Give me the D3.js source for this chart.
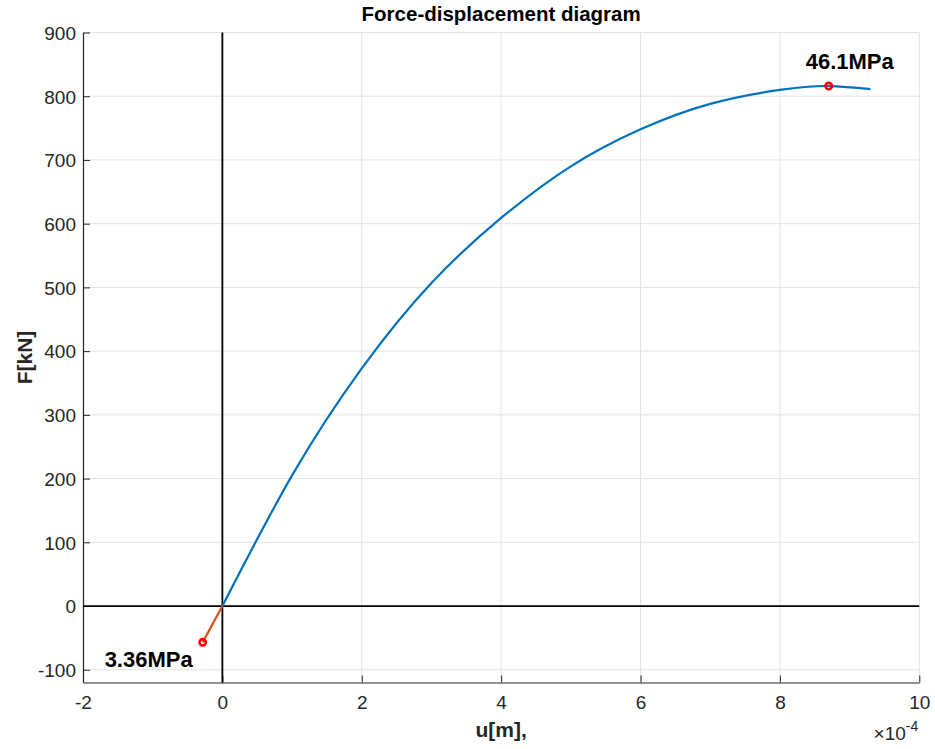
<!DOCTYPE html>
<html>
<head>
<meta charset="utf-8">
<script src="https://cdn.jsdelivr.net/npm/d3@7"></script>
<style>
  html, body { margin: 0; padding: 0; background: #fff; }
  svg { display: block; }
  text { font-family: "Liberation Sans", Arial, Helvetica, sans-serif; }
</style>
</head>
<body>
<svg id="chart" width="935" height="749"></svg>
<script>
// Displacement u in units of 1e-4 m, force F in kN
const loadU = [0, 1, 2, 3, 4, 5, 6, 7, 8, 8.7, 9.3];
const loadF = [0, 205, 373, 507, 609, 690, 748, 788, 810, 816, 811];
// tension branch
const tensionU = [0, -0.283];
const tensionF = [0, -57];
// marked points with their stress labels
const markU = [8.7, -0.283];
const markF = [816, -57];
const markLabels = ["46.1MPa", "3.36MPa"];
const xTicks = [-2, 0, 2, 4, 6, 8, 10];
const yTicks = [-100, 0, 100, 200, 300, 400, 500, 600, 700, 800, 900];

const svg = d3.select("#chart");
const L = 83, R = 919.3, T = 32.5, B = 682.5;
const x = d3.scaleLinear().domain([-2, 10]).range([L, R]);
const y = d3.scaleLinear().domain([-120, 900]).range([B, T]);

const axisColor = "#262626";
const tickFont = 19;

// grid
const g = svg.append("g");
g.selectAll(".gx").data(xTicks).join("line")
  .attr("x1", d => x(d)).attr("x2", d => x(d)).attr("y1", T).attr("y2", B)
  .attr("stroke", "#e3e3e3").attr("stroke-width", 1);
g.selectAll(".gy").data(yTicks).join("line")
  .attr("y1", d => y(d)).attr("y2", d => y(d)).attr("x1", L).attr("x2", R)
  .attr("stroke", "#e3e3e3").attr("stroke-width", 1);

// axes
const fmt = d => String(d);
const xAxis = d3.axisBottom(x).tickValues(xTicks).tickFormat(fmt).tickSizeInner(-7).tickSizeOuter(0);
const yAxis = d3.axisLeft(y).tickValues(yTicks).tickFormat(fmt).tickSizeInner(-7).tickSizeOuter(0);
const gx = svg.append("g").attr("transform", `translate(0,${B})`).call(xAxis);
const gy = svg.append("g").attr("transform", `translate(${L},0)`).call(yAxis);
[gx, gy].forEach(a => {
  a.select(".domain").attr("stroke", axisColor).attr("stroke-width", 1.2);
  a.selectAll(".tick line").attr("stroke", axisColor).attr("stroke-width", 1);
  a.selectAll(".tick text").attr("fill", axisColor).attr("font-size", tickFont)
    .attr("font-family", "Liberation Sans, Arial, sans-serif");
});
gy.selectAll(".tick text").attr("dy", "0.36em").attr("x", -7);
gx.selectAll(".tick text").attr("y", 13).attr("dy", "0.71em");

// zero lines
svg.append("line").attr("x1", L).attr("x2", R).attr("y1", y(0)).attr("y2", y(0))
  .attr("stroke", "#000").attr("stroke-width", 1.8);
svg.append("line").attr("x1", x(0)).attr("x2", x(0)).attr("y1", T).attr("y2", B)
  .attr("stroke", "#000").attr("stroke-width", 1.8);

// curves
const line = d3.line().x(d => x(d[0])).y(d => y(d[1])).curve(d3.curveNatural);
svg.append("path").datum(loadU.map((u, i) => [u, loadF[i]]))
  .attr("d", line).attr("fill", "none").attr("stroke", "#0072BD").attr("stroke-width", 2.2);
svg.append("path").datum(tensionU.map((u, i) => [u, tensionF[i]]))
  .attr("d", d3.line().x(d => x(d[0])).y(d => y(d[1])))
  .attr("fill", "none").attr("stroke", "#D95319").attr("stroke-width", 2.2);

// markers
svg.selectAll(".mk").data(markU).join("circle")
  .attr("cx", d => x(d)).attr("cy", (d, i) => y(markF[i])).attr("r", 3.2)
  .attr("fill", "none").attr("stroke", "#ff0000").attr("stroke-width", 2.6);

// marker labels
const labelOffsets = [[21, -17], [-54, 25]];
svg.selectAll(".ml").data(markLabels).join("text")
  .attr("x", (d, i) => x(markU[i]) + labelOffsets[i][0])
  .attr("y", (d, i) => y(markF[i]) + labelOffsets[i][1])
  .attr("text-anchor", "middle").attr("font-weight", "bold").attr("font-size", 22)
  .attr("fill", "#000").text(d => d);

// title and axis labels
svg.append("text").attr("x", (L + R) / 2).attr("y", 21).attr("text-anchor", "middle")
  .attr("font-weight", "bold").attr("font-size", 20.5).attr("fill", "#000")
  .text("Force-displacement diagram");
svg.append("text").attr("x", (L + R) / 2).attr("y", 737).attr("text-anchor", "middle")
  .attr("font-weight", "bold").attr("font-size", 21).attr("fill", axisColor)
  .text("u[m],");
svg.append("text").attr("transform", `translate(32,${(T + B) / 2}) rotate(-90)`)
  .attr("text-anchor", "middle").attr("font-weight", "bold").attr("font-size", 21)
  .attr("fill", axisColor).text("F[kN]");

// exponent label
const ex = svg.append("text").attr("x", R - 1).attr("y", 740).attr("text-anchor", "end")
  .attr("fill", axisColor).attr("font-size", tickFont);
ex.append("tspan").text("\u00d710");
ex.append("tspan").attr("font-size", 14).attr("dy", -9).text("-4");
</script>
</body>
</html>
